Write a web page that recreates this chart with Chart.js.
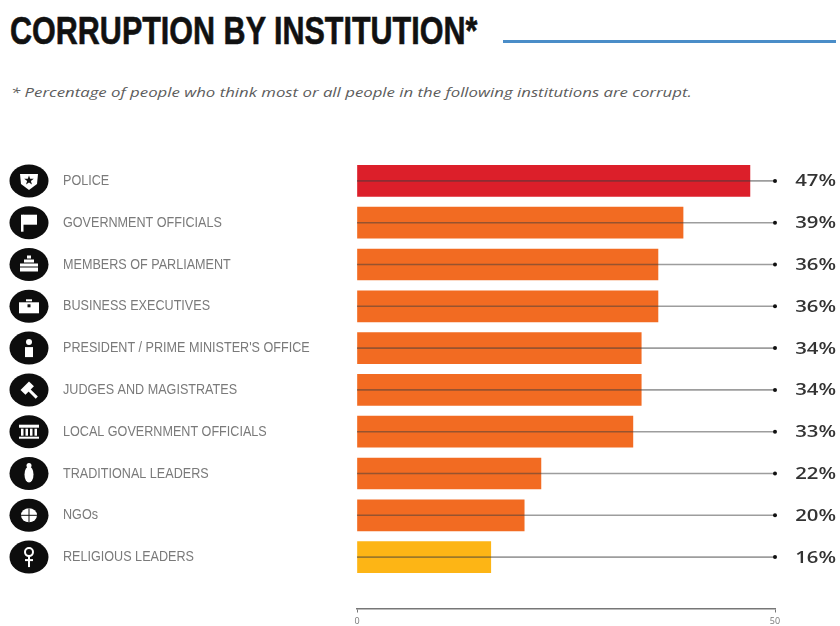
<!DOCTYPE html>
<html>
<head>
<meta charset="utf-8">
<title>Corruption by institution</title>
<script src="https://cdn.jsdelivr.net/npm/chart.js@4"></script>
<style>
  html, body { margin: 0; padding: 0; background: #fff; }
  #page { position: relative; width: 840px; height: 626px; overflow: hidden; }
  #chart { position: absolute; left: 0; top: 0; }
  h1 {
    position: absolute; left: 10px; top: 9px; margin: 0; white-space: nowrap;
    font: bold 38px/44px "Liberation Sans", sans-serif;
    color: #111; -webkit-text-stroke: 0.6px #111;
    transform-origin: 0 0; transform: scaleX(0.803);
  }
  #rule { position: absolute; left: 503px; top: 40px; width: 333px; height: 3px; background: #4a8dc8; }
  #note {
    position: absolute; left: 11px; top: 83px; margin: 0; white-space: nowrap;
    font: italic 13px/18px "Open Sans", sans-serif; color: #5c5c5c;
    transform-origin: 0 0; transform: scaleX(1.29);
  }
</style>
</head>
<body>
<div id="page">
  <h1>CORRUPTION BY INSTITUTION*</h1>
  <div id="rule"></div>
  <p id="note">* Percentage of people who think most or all people in the following institutions are corrupt.</p>
  <canvas id="chart" width="840" height="626"></canvas>
</div>
<script>
const categories = [
  "POLICE",
  "GOVERNMENT OFFICIALS",
  "MEMBERS OF PARLIAMENT",
  "BUSINESS EXECUTIVES",
  "PRESIDENT / PRIME MINISTER'S OFFICE",
  "JUDGES AND MAGISTRATES",
  "LOCAL GOVERNMENT OFFICIALS",
  "TRADITIONAL LEADERS",
  "NGOs",
  "RELIGIOUS LEADERS",
];
const percentages = [47, 39, 36, 36, 34, 34, 33, 22, 20, 16];
const barColors = [
  "#dc1f2a", "#f26b22", "#f26b22", "#f26b22", "#f26b22",
  "#f26b22", "#f26b22", "#f26b22", "#f26b22", "#fdb515",
];
const axisTicks = [0, 50];

// little white pictograms, drawn around the centre of each black badge
const box = (c, x, y, w, h) => c.fillRect(x, y, w, h);
const icons = [
  (c) => { // police badge with a star
    c.beginPath();
    c.moveTo(-9, -7); c.lineTo(9, -7); c.lineTo(8, 3); c.lineTo(0, 9); c.lineTo(-8, 3);
    c.closePath(); c.fill();
    c.fillStyle = "#111";
    c.beginPath();
    for (let k = 0; k < 10; k++) {
      const r = k % 2 ? 2 : 5;
      const a = -Math.PI / 2 + (k * Math.PI) / 5;
      c.lineTo(Math.cos(a) * r, Math.sin(a) * r - 0.5);
    }
    c.closePath(); c.fill();
  },
  (c) => { // flag
    box(c, -8, -8, 2.5, 17);
    box(c, -6, -8, 14, 10);
  },
  (c) => { // parliament desks
    box(c, -9, -1, 18, 8);
    box(c, -5, -5, 10, 3);
    box(c, -2, -9, 4, 3);
    c.fillStyle = "#111";
    box(c, -9, 2, 18, 1);
  },
  (c) => { // briefcase
    box(c, -10, -4, 20, 11);
    box(c, -3, -7, 6, 2);
    c.fillStyle = "#111";
    box(c, -1.5, -2, 3, 3);
  },
  (c) => { // figure at a lectern
    box(c, -4, -1, 8, 10);
    c.beginPath(); c.arc(0, -6, 3, 0, Math.PI * 2); c.fill();
  },
  (c) => { // gavel
    c.save();
    c.rotate(-Math.PI / 4);
    box(c, -1.5, -2, 3, 13);
    box(c, -6, -6, 12, 7);
    c.restore();
  },
  (c) => { // town hall columns
    box(c, -10, -7, 20, 3);
    box(c, -10, 5, 20, 2);
    for (const x of [-8, -3.5, 1, 5.5]) box(c, x, -3, 2.5, 7);
  },
  (c) => { // robed figure
    c.beginPath(); c.ellipse(0, 1, 4.5, 8, 0, 0, Math.PI * 2); c.fill();
    c.beginPath(); c.arc(0, -8, 2.5, 0, Math.PI * 2); c.fill();
  },
  (c) => { // globe
    c.beginPath(); c.ellipse(0, 0, 8, 7, 0, 0, Math.PI * 2); c.fill();
    c.fillStyle = "#111";
    box(c, -8, -0.5, 16, 1);
    box(c, -0.5, -7, 1, 14);
  },
  (c) => { // ankh
    c.strokeStyle = "#fff";
    c.lineWidth = 2;
    c.beginPath(); c.arc(0, -5, 4, 0, Math.PI * 2); c.stroke();
    box(c, -1, -1, 2, 11);
    box(c, -4, 2, 8, 2);
  },
];

const institutionExtras = {
  id: "institutionExtras",
  // leader line and end dot run over the bars, from 0 to the end of the scale
  afterDatasetsDraw(chart) {
    const { ctx, scales: { x, y } } = chart;
    ctx.save();
    categories.forEach((name, i) => {
      const py = y.getPixelForValue(i);
      ctx.strokeStyle = "rgba(60,60,60,0.5)";
      ctx.lineWidth = 1.6;
      ctx.beginPath();
      ctx.moveTo(x.getPixelForValue(0), py);
      ctx.lineTo(x.getPixelForValue(axisTicks[1]), py);
      ctx.stroke();
      ctx.fillStyle = "#111";
      ctx.beginPath();
      ctx.arc(x.getPixelForValue(axisTicks[1]), py, 2, 0, Math.PI * 2);
      ctx.fill();

      // value at the far right, stretched to the width of the heading type
      ctx.save();
      ctx.translate(836, py + 1);
      ctx.scale(1.27, 1);
      ctx.fillStyle = "#333";
      ctx.font = '600 16px "Open Sans", sans-serif';
      ctx.textAlign = "right";
      ctx.textBaseline = "middle";
      ctx.fillText(percentages[i] + "%", 0, 0);
      ctx.restore();

      // institution name, condensed
      ctx.save();
      ctx.translate(63, py);
      ctx.scale(0.84, 1);
      ctx.fillStyle = "#7a7a7a";
      ctx.font = '15px "Liberation Sans", sans-serif';
      ctx.textAlign = "left";
      ctx.textBaseline = "middle";
      ctx.fillText(name, 0, 0);
      ctx.restore();

      // badge
      ctx.save();
      ctx.translate(29, py);
      ctx.fillStyle = "#0d0d0d";
      ctx.beginPath();
      ctx.ellipse(0, 0, 19.5, 16.5, 0, 0, Math.PI * 2);
      ctx.fill();
      ctx.fillStyle = "#fff";
      icons[i](ctx);
      ctx.restore();
    });
    ctx.restore();
  },
};

new Chart(document.getElementById("chart"), {
  type: "bar",
  plugins: [institutionExtras],
  data: {
    labels: categories,
    datasets: [{
      data: percentages,
      backgroundColor: barColors,
      barThickness: 31,
    }],
  },
  options: {
    indexAxis: "y",
    responsive: false,
    animation: false,
    layout: { padding: { left: 63, right: 65, top: 160, bottom: 48 } },
    plugins: { legend: { display: false }, tooltip: { enabled: false } },
    scales: {
      x: {
        // sits well below the last bar, so it is pinned to a y value
        position: { y: 10.24 },
        min: axisTicks[0],
        max: axisTicks[1],
        border: { color: "#777", width: 1.5 },
        grid: { drawOnChartArea: false, tickLength: 3, color: "#777" },
        ticks: {
          stepSize: 50,
          maxRotation: 0,
          padding: 4,
          color: "#777",
          font: { family: '"Open Sans", sans-serif', size: 9 },
        },
      },
      y: {
        border: { display: false },
        grid: { display: false },
        afterFit(scale) { scale.width = 294; },
        ticks: { display: false },
      },
    },
  },
});
</script>
</body>
</html>
